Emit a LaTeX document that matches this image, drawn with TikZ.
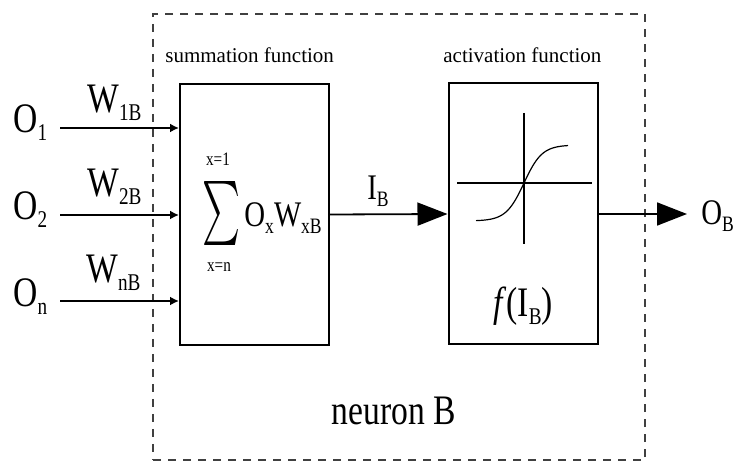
\documentclass[tikz,border=0pt]{standalone}
\usepackage{fontspec}
\setmainfont{Liberation Serif}
\newfontfamily\narrowserif{Liberation Serif}[FakeStretch=0.8]
\usetikzlibrary{arrows.meta}
\newcommand\lowsub[1]{\raisebox{-4pt}{\fontsize{12}{12}\selectfont #1}}
\newcommand\midsub[1]{\raisebox{-3.5pt}{\fontsize{11}{12}\selectfont #1}}
\tikzset{
  block/.style={draw, line width=1pt, inner sep=0pt, minimum width=74.5pt, minimum height=130.5pt},
  biglabel/.style={font=\narrowserif\fontsize{21}{24}\selectfont, inner sep=0pt},
  midlabel/.style={font=\narrowserif\fontsize{18}{20}\selectfont, inner sep=0pt},
  titlelabel/.style={font=\fontsize{10.5}{12}\selectfont, inner sep=0pt},
  limitlabel/.style={font=\narrowserif\fontsize{9.5}{10}\selectfont, inner sep=0pt},
  inarrow/.style={-{Latex[length=4.5pt,width=4.5pt]}, line width=0.9pt},
  bigarrow/.style={-{Triangle[length=15pt,width=11.5pt]}, line width=0.9pt},
}
\begin{document}
\begin{tikzpicture}[x=0.5pt,y=-0.5pt]
\useasboundingbox (0,0) rectangle (733,464);
% neuron frame
\node[draw=black!75, dash pattern=on 4pt off 3.5pt, line width=0.7pt, minimum width=246pt, minimum height=223pt, inner sep=0pt] (neuron) at (399,237) {};
\node[biglabel, anchor=base] (neuronlabel) at (394,424) {neuron B};
% the two blocks
\node[block] (sum) at (254.5,214.5) {};
\node[block] (act) at (523,214) {};
\node[titlelabel, anchor=base west] (sumtitle) at (165,63) {summation function};
\node[titlelabel, anchor=base west] (acttitle) at (443,63) {activation function};
% inputs
\node[biglabel, anchor=base west] (o1) at (13,133) {O\lowsub{1}};
\node[biglabel, anchor=base west] (o2) at (13,220) {O\lowsub{2}};
\node[biglabel, anchor=base west] (on) at (13,307) {O\lowsub{n}};
\node[biglabel, anchor=base west] (w1) at (87,113) {W\lowsub{1B}};
\node[biglabel, anchor=base west] (w2) at (87,197) {W\lowsub{2B}};
\node[biglabel, anchor=base west] (wn) at (86,283) {W\lowsub{nB}};
\coordinate (in1) at (60,128);
\coordinate (in2) at (60,215);
\coordinate (inn) at (60,301);
\draw[inarrow] (in1) -- (in1 -| sum.west);
\draw[inarrow] (in2) -- (in2 -| sum.west);
\draw[inarrow] (inn) -- (inn -| sum.west);
% summation
\node[inner sep=0pt] (sigma) at (221.5,214) {\resizebox*{19pt}{32pt}{$\sum$}};
\node[limitlabel, anchor=base] (top) at (218,166) {x=1};
\node[limitlabel, anchor=base] (bottom) at (219,272) {x=n};
\node[midlabel, anchor=base west] (expr) at (244,227) {O\midsub{x}W\midsub{xB}};
% net input
\draw[bigarrow] (sum.east) -- (act.west);
\node[midlabel, anchor=base west] (ib) at (367,200) {I\midsub{B}};
% activation
\draw[line width=0.7pt] (457,183) -- (592,183);
\draw[line width=0.7pt] (524,113) -- (524,244);
\draw[line width=0.6pt] plot[domain=-48:44, samples=50] ({524+\x},{183-38*tanh(\x/18)});
\node[biglabel, anchor=base] (fib) at (523,317) {\textit{f}(I\lowsub{B})};
% output
\coordinate (outend) at (687,214);
\draw[bigarrow] (act.east) -- (outend);
\node[midlabel, anchor=base west] (ob) at (701,225) {O\midsub{B}};
\end{tikzpicture}
\end{document}
